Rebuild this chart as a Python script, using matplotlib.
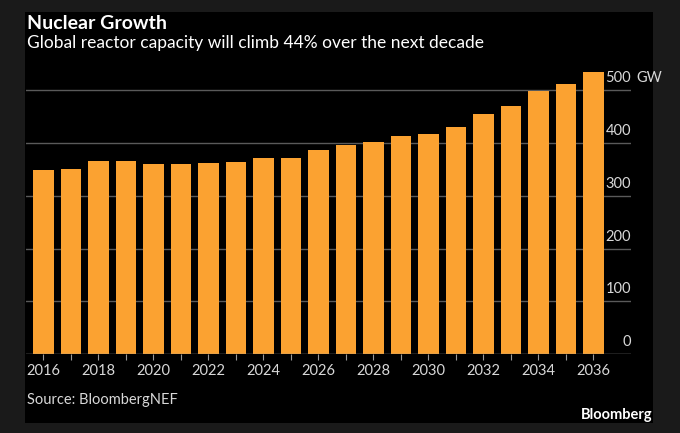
import matplotlib
matplotlib.use("Agg")
import matplotlib.pyplot as plt
import matplotlib.patches as patches
import matplotlib.transforms as mtransforms

# data (GW)
years = list(range(2016, 2037))
capacity = [349, 351, 366, 365, 361, 361, 363, 364, 371, 372, 387,
            396, 401, 413, 417, 430, 454, 470, 498, 512, 535]
ytick_vals = [0, 100, 200, 300, 400, 500]
xtick_labels = [str(y) for y in years[::2]]

W, H = 680, 433
bar_color = "#fba231"
fnt = ["Lato", "DejaVu Sans"]

def fx(px):
    return px / W

def fy(py):
    return (H - py) / H

fig = plt.figure(figsize=(6.8, 4.33), dpi=100)
fig.patch.set_facecolor("#1a1a1a")

# black panel behind everything
panel = patches.Rectangle((fx(25), fy(423.3)), fx(653.3) - fx(25), fy(12.3) - fy(423.3),
                          transform=fig.transFigure, facecolor="black", edgecolor="none", zorder=-10)
fig.patches.append(panel)

ax = fig.add_axes([fx(26), fy(354.3), fx(631) - fx(26), fy(69) - fy(354.3)])
ax.set_facecolor("none")

ax.bar(years, capacity, width=0.75, color=bar_color, zorder=2)
ax.set_xlim(2015.37, 2037.37)
ax.set_ylim(0, 540)

for v in ytick_vals[1:]:
    ax.axhline(v, color="#5a5a5a", lw=1, zorder=1)
ax.axhline(0, color="#9a9a9a", lw=1, zorder=3)

for s in ax.spines.values():
    s.set_visible(False)
ax.set_yticks([])
ax.set_xticks(years, minor=True)
ax.set_xticks(years[::2])
ax.set_xticklabels(xtick_labels, family=fnt, fontsize=10.5, color="#d8d8d8")
ax.tick_params(axis="x", which="both", length=4, width=0.8, color="#9a9a9a", pad=3)

# y labels sit above gridlines, right aligned at the axis end
trans = mtransforms.blended_transform_factory(ax.transAxes, ax.transData)
off = mtransforms.offset_copy(trans, fig=fig, x=0, y=5, units="dots")
for v in ytick_vals:
    ax.text(1.0, v, str(v), transform=off, ha="right", va="bottom",
            family=fnt, fontsize=10.5, color="#d8d8d8", clip_on=False)
off2 = mtransforms.offset_copy(trans, fig=fig, x=5, y=5, units="dots")
ax.text(1.0, 500, "GW", transform=off2, ha="left", va="bottom",
        family=fnt, fontsize=10.5, color="#d8d8d8", clip_on=False)

fig.text(fx(27), fy(29), "Nuclear Growth", family=fnt, fontsize=14, fontweight="bold",
         color="white", va="baseline", ha="left")
fig.text(fx(27), fy(48.3), "Global reactor capacity will climb 44% over the next decade",
         family=fnt, fontsize=12.5, color="white", va="baseline", ha="left")
fig.text(fx(27), fy(404), "Source: BloombergNEF", family=fnt, fontsize=10.5,
         color="#d8d8d8", va="baseline", ha="left")
fig.text(fx(652), fy(419), "Bloomberg", family=fnt, fontsize=10.5, fontweight="bold",
         color="white", va="baseline", ha="right")

fig.savefig("out.png", dpi=100, facecolor=fig.get_facecolor())
